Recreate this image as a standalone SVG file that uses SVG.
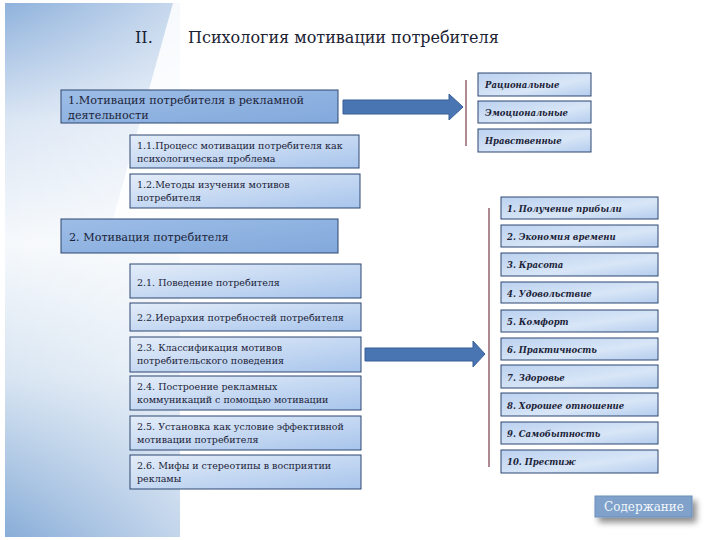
<svg xmlns="http://www.w3.org/2000/svg" width="720" height="540" viewBox="0 0 720 540">
<defs>
<linearGradient id="panel" x1="0" y1="0" x2="0" y2="1">
<stop offset="0" stop-color="#8fb2dc"/>
<stop offset="0.22" stop-color="#dbe6f4"/>
<stop offset="0.45" stop-color="#f6f9fc"/>
<stop offset="0.7" stop-color="#d8e5f2"/>
<stop offset="1" stop-color="#88add8"/>
</linearGradient>
<linearGradient id="fadeR" x1="0" y1="0" x2="1" y2="0">
<stop offset="0" stop-color="#ffffff" stop-opacity="0"/>
<stop offset="1" stop-color="#ffffff" stop-opacity="0.5"/>
</linearGradient>
<linearGradient id="mainG" x1="0" y1="0" x2="1" y2="1">
<stop offset="0" stop-color="#9dbde6"/>
<stop offset="1" stop-color="#82a9dc"/>
</linearGradient>
<linearGradient id="subG" x1="0" y1="0" x2="1" y2="1">
<stop offset="0" stop-color="#e4edf9"/>
<stop offset="1" stop-color="#a8c5ec"/>
</linearGradient>
<linearGradient id="rightG" x1="0" y1="0" x2="1" y2="1">
<stop offset="0" stop-color="#bcd2f0"/>
<stop offset="0.6" stop-color="#d8e6f7"/>
<stop offset="1" stop-color="#b5cdee"/>
</linearGradient>
<filter id="shadow" x="-20%" y="-30%" width="150%" height="200%">
<feGaussianBlur in="SourceAlpha" stdDeviation="3"/>
<feOffset dx="4" dy="5" result="b"/>
<feComponentTransfer><feFuncA type="linear" slope="0.45"/></feComponentTransfer>
<feMerge><feMergeNode/><feMergeNode in="SourceGraphic"/></feMerge>
</filter>
</defs>
<style>
text{font-family:"DejaVu Serif","Liberation Serif",serif}
.main{fill:url(#mainG);stroke:#2c4670;stroke-width:1}
.sub{fill:url(#subG);stroke:#2c4670;stroke-width:1}
.rt{fill:url(#rightG);stroke:#2c4670;stroke-width:1}
.t13{font-size:11.2px;fill:#1c2338}
.t11{font-size:9.5px;fill:#1c2338}
.ti{font-size:8.5px;font-style:italic;font-weight:bold;fill:#1c2338}
.title{font-size:16px;fill:#1a2233}
.arrow{fill:#4a75b3;stroke:#375f97;stroke-width:1}
.vline{stroke:#7a3a4a;stroke-width:1.2;fill:none}
</style>

<g id="background">
<rect x="5" y="3" width="175" height="534" fill="url(#panel)"/>
<rect x="5" y="3" width="175" height="534" fill="url(#fadeR)"/>
<polygon points="173,3 181,3 181,230 110,230" fill="#ffffff" opacity="0.85"/>
</g>

<g id="title">
<text class="title" x="135" y="43">II.</text>
<text class="title" x="188" y="43">Психология мотивации потребителя</text>
</g>

<g id="connectors">
<polygon class="arrow" points="343,100 449,100 449,94 463,107 449,120 449,114 343,114"/>
<polygon class="arrow" points="365,348 473,348 473,341 485,354 473,367 473,361 365,361"/>
<line class="vline" x1="466" y1="80" x2="466" y2="146"/>
<line class="vline" x1="489" y1="208" x2="489" y2="467"/>
</g>

<g id="box1">
<rect class="main" x="61" y="90" width="277" height="33"/>
<text class="t13" x="68" y="104" textLength="236" lengthAdjust="spacingAndGlyphs">1.Мотивация потребителя в рекламной</text>
<text class="t13" x="68" y="119">деятельности</text>
</g>
<g id="box1_1">
<rect class="sub" x="130" y="135" width="229" height="33"/>
<text class="t11" x="137" y="149">1.1.Процесс мотивации потребителя как</text>
<text class="t11" x="137" y="162">психологическая проблема</text>
</g>
<g id="box1_2">
<rect class="sub" x="130" y="174" width="230" height="34"/>
<text class="t11" x="137" y="188">1.2.Методы изучения мотивов</text>
<text class="t11" x="137" y="201">потребителя</text>
</g>
<g id="box2">
<rect class="main" x="61" y="219" width="277" height="34"/>
<text class="t13" x="69" y="241">2. Мотивация потребителя</text>
</g>
<g id="box2_1">
<rect class="sub" x="130" y="264" width="231" height="34"/>
<text class="t11" x="137" y="286">2.1. Поведение потребителя</text>
</g>
<g id="box2_2">
<rect class="sub" x="130" y="303" width="231" height="28"/>
<text class="t11" x="137" y="321">2.2.Иерархия потребностей потребителя</text>
</g>
<g id="box2_3">
<rect class="sub" x="130" y="337" width="231" height="35"/>
<text class="t11" x="137" y="351">2.3. Классификация мотивов</text>
<text class="t11" x="137" y="364">потребительского поведения</text>
</g>
<g id="box2_4">
<rect class="sub" x="130" y="376" width="231" height="34"/>
<text class="t11" x="137" y="390">2.4. Построение рекламных</text>
<text class="t11" x="137" y="403">коммуникаций с помощью мотивации</text>
</g>
<g id="box2_5">
<rect class="sub" x="130" y="416" width="231" height="34"/>
<text class="t11" x="137" y="430">2.5. Установка как условие эффективной</text>
<text class="t11" x="137" y="443">мотивации потребителя</text>
</g>
<g id="box2_6">
<rect class="sub" x="130" y="455" width="231" height="34"/>
<text class="t11" x="137" y="469">2.6. Мифы и стереотипы в восприятии</text>
<text class="t11" x="137" y="482">рекламы</text>
</g>

<g id="r_rational">
<rect class="rt" x="478" y="73" width="113" height="23"/>
<text class="ti" x="485" y="88">Рациональные</text>
</g>
<g id="r_emotional">
<rect class="rt" x="478" y="101" width="113" height="22"/>
<text class="ti" x="485" y="116">Эмоциональные</text>
</g>
<g id="r_moral">
<rect class="rt" x="478" y="129" width="113" height="23"/>
<text class="ti" x="485" y="144">Нравственные</text>
</g>

<g id="m1"><rect class="rt" x="501" y="197" width="157" height="22"/><text class="ti" x="507" y="212">1. Получение прибыли</text></g>
<g id="m2"><rect class="rt" x="501" y="225" width="157" height="22"/><text class="ti" x="507" y="240">2. Экономия времени</text></g>
<g id="m3"><rect class="rt" x="501" y="253" width="157" height="23"/><text class="ti" x="507" y="268">3. Красота</text></g>
<g id="m4"><rect class="rt" x="501" y="282" width="157" height="21"/><text class="ti" x="507" y="297">4. Удовольствие</text></g>
<g id="m5"><rect class="rt" x="501" y="310" width="157" height="22"/><text class="ti" x="507" y="325">5. Комфорт</text></g>
<g id="m6"><rect class="rt" x="501" y="338" width="157" height="22"/><text class="ti" x="507" y="353">6. Практичность</text></g>
<g id="m7"><rect class="rt" x="501" y="365" width="157" height="23"/><text class="ti" x="507" y="381">7. Здоровье</text></g>
<g id="m8"><rect class="rt" x="501" y="393" width="157" height="23"/><text class="ti" x="507" y="409">8. Хорошее отношение</text></g>
<g id="m9"><rect class="rt" x="501" y="422" width="157" height="22"/><text class="ti" x="507" y="437">9. Самобытность</text></g>
<g id="m10"><rect class="rt" x="501" y="450" width="157" height="23"/><text class="ti" x="507" y="465">10. Престиж</text></g>

<g id="contents_button">
<rect x="595" y="496" width="97" height="21" fill="#7fa1ca" stroke="#6a8fbd" stroke-width="1" filter="url(#shadow)"/>
<text x="644" y="511" text-anchor="middle" font-size="12" fill="#f2f6fb">Содержание</text>
</g>
</svg>
